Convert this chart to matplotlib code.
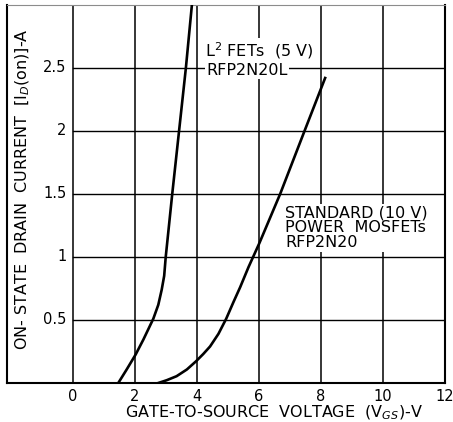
import matplotlib.pyplot as plt

# L2 FET (5 V) curve
l2_vgs = [1.47, 1.74, 2.03, 2.28, 2.6, 2.76, 2.87, 2.95, 3.0, 3.21, 3.43, 3.65, 3.84]
l2_id = [0.0, 0.107, 0.226, 0.345, 0.51, 0.62, 0.74, 0.85, 1.0, 1.5, 2.0, 2.5, 2.99]

# standard (10 V) power MOSFET curve
std_vgs = [2.76, 3.03, 3.35, 3.68, 3.98, 4.21, 4.43, 4.7, 4.95, 5.18, 5.4, 5.67,
           6.02, 6.69, 7.46, 8.14]
std_id = [0.0, 0.022, 0.054, 0.107, 0.173, 0.23, 0.29, 0.39, 0.51, 0.64, 0.76, 0.92,
          1.11, 1.5, 1.99, 2.42]

x_ticks = [0, 2, 4, 6, 8, 10, 12]
y_ticks = [0.5, 1, 1.5, 2, 2.5]
y_tick_labels = ["0.5", "1", "1.5", "2", "2.5"]


def main():
    fig = plt.figure(figsize=(4.53, 4.22), dpi=100)
    ax = fig.add_axes([0.016, 0.0924, 0.966, 0.896])
    ax.set_xlim(-2.11, 12)
    ax.set_ylim(0, 3)

    # grid: verticals full height, horizontals start at x=0
    for x in x_ticks[:-1]:
        ax.plot([x, x], [0, 3], color="black", lw=1.1, zorder=1)
    for y in y_ticks:
        ax.plot([0, 12], [y, y], color="black", lw=1.0, zorder=1)

    ax.plot(l2_vgs, l2_id, color="black", lw=1.9, zorder=3, solid_joinstyle="round")
    ax.plot(std_vgs, std_id, color="black", lw=1.9, zorder=3, solid_joinstyle="round")

    for s in ["left", "bottom", "right"]:
        ax.spines[s].set_linewidth(1.5)
    ax.spines["top"].set_linewidth(0.8)
    ax.spines["top"].set_color("0.55")
    ax.set_xticks([])
    ax.set_yticks([])

    # tick labels drawn by hand
    for x in x_ticks:
        ax.text(x, -0.11, str(x), ha="center", va="center", fontsize=10.5, clip_on=False)
    for y, lab in zip(y_ticks, y_tick_labels):
        ax.text(-0.2, y, lab, ha="right", va="center", fontsize=10.5)

    ax.text(-1.62, 1.54, "ON- STATE  DRAIN  CURRENT  [I$_D$(on)]-A", rotation=90,
            ha="center", va="center", fontsize=11.5)
    ax.text(6.5, -0.24, "GATE-TO-SOURCE  VOLTAGE  (V$_{GS}$)-V", ha="center",
            va="center", fontsize=11.5, clip_on=False)

    box = dict(facecolor="white", edgecolor="none", pad=1)
    ax.text(4.27, 2.64, "L$^2$ FETs  (5 V)", ha="left", va="center", fontsize=11.5,
            bbox=box, zorder=4)
    ax.text(4.3, 2.48, "RFP2N20L", ha="left", va="center", fontsize=11.5,
            bbox=box, zorder=4)
    ax.text(6.85, 1.23, "STANDARD (10 V)\nPOWER  MOSFETs\nRFP2N20", ha="left",
            va="center", fontsize=11.5, linespacing=1.0, bbox=box, zorder=4)

    fig.savefig("out.png", dpi=100)


if __name__ == "__main__":
    main()
